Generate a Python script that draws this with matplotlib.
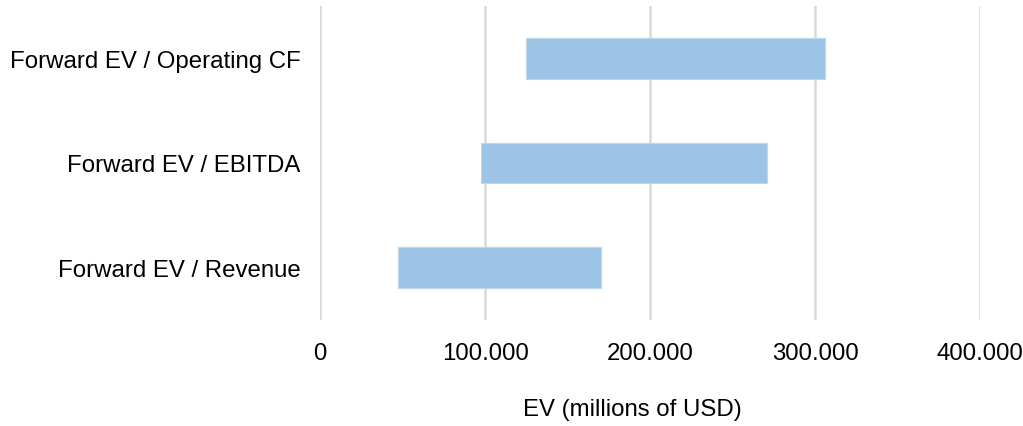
import matplotlib.pyplot as plt
from matplotlib.ticker import FuncFormatter

plt.rcParams['font.family'] = ['Liberation Sans', 'DejaVu Sans']

# EV ranges (millions of USD), bottom to top
methods = ['Forward EV / Revenue', 'Forward EV / EBITDA', 'Forward EV / Operating CF']
ev_low = [47000, 97500, 125000]
ev_high = [170000, 271000, 306000]

fig = plt.figure(figsize=(10.23, 4.27), dpi=100)
ax = fig.add_axes([0.313, 0.248, 0.645, 0.736])

widths = [h - l for l, h in zip(ev_low, ev_high)]
ax.barh(range(len(methods)), widths, left=ev_low, height=0.39,
        color='#9dc3e6', edgecolor='#bdd7ee', linewidth=0.8, zorder=2)

ax.set_xlim(0, 400000)
ax.set_ylim(-0.5, len(methods) - 0.5)
ax.set_xticks([0, 100000, 200000, 300000, 400000])
ax.xaxis.set_major_formatter(FuncFormatter(lambda v, p: '{:,.0f}'.format(v).replace(',', '.')))
ax.set_yticks(range(len(methods)))
ax.set_yticklabels(methods)

ax.grid(axis='x', color='#d9d9d9', linewidth=1.8, zorder=0)
for s in ax.spines.values():
    s.set_visible(False)
ax.tick_params(axis='both', length=0, labelsize=17.3, colors='black')
ax.tick_params(axis='x', pad=16)
ax.tick_params(axis='y', pad=14)

ax.set_xlabel('EV (millions of USD)', fontsize=17.3, labelpad=24)
ax.xaxis.label.set_x(0.473)

fig.savefig('out.png', dpi=100)
